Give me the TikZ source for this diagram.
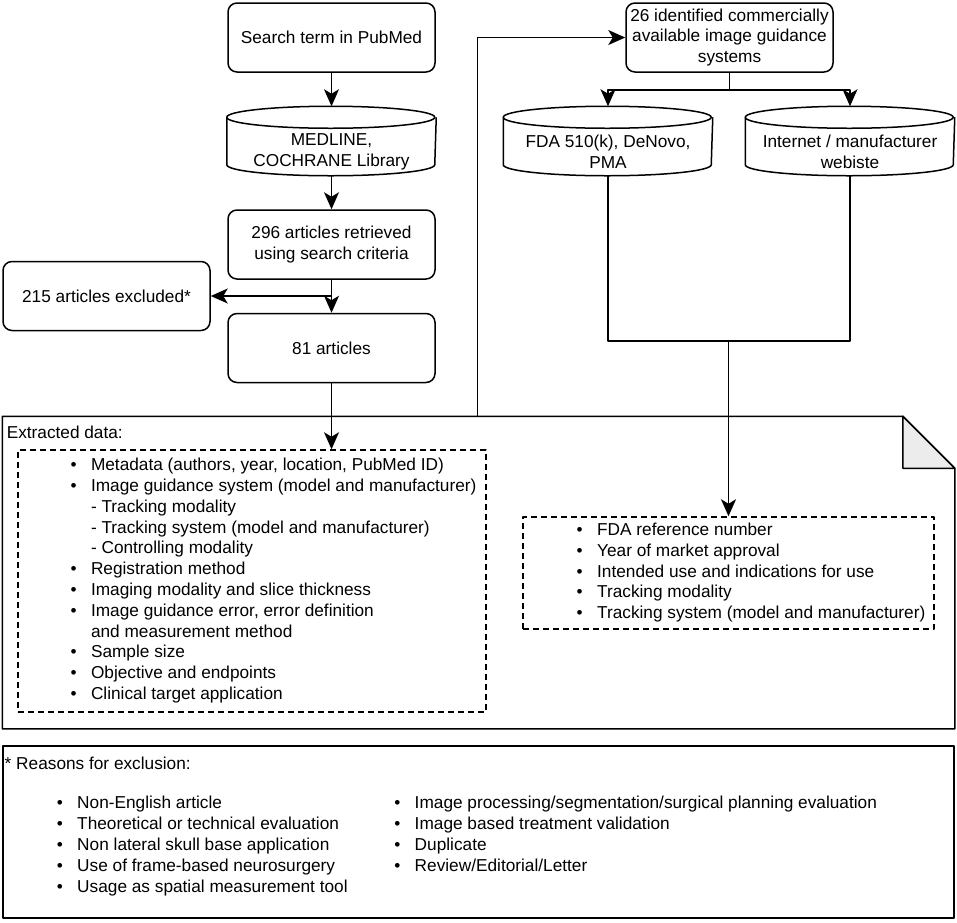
\documentclass[tikz,border=0pt]{standalone}
\usepackage{fontspec}
\setmainfont{Liberation Sans}
\usetikzlibrary{arrows.meta}
\newcommand{\bul}{\makebox[20.5pt][l]{\textbullet}}
% cylinder outline round a (plain) node
\newcommand{\dbshape}[1]{%
  \draw ([yshift=-11pt]#1.north west) arc[start angle=180,end angle=-180,x radius=104pt,y radius=11pt];
  \draw ([yshift=-11pt]#1.north west) -- ([yshift=11pt]#1.south west)
    arc[start angle=180,end angle=360,x radius=104pt,y radius=11pt] -- ([yshift=-11pt]#1.north east);}
\begin{document}
\begin{tikzpicture}[x=1pt,y=-1pt,line width=1.5pt,line join=round,font=\fontsize{17.25}{20.8}\selectfont,
  arr/.style={-{Stealth[length=17pt,width=15pt,inset=4.5pt]}},
  proc/.style={draw,rounded corners=9pt,minimum width=207pt,minimum height=69pt,align=center,inner sep=0pt},
  dbase/.style={minimum width=208pt,minimum height=68pt,inner sep=0pt},
  dashlist/.style={draw,dash pattern=on 6pt off 4pt,inner sep=0pt},
  txt/.style={inner sep=0pt}]
\useasboundingbox (0,0) rectangle (957,922);
% boxes
\node[proc] (search) at (331.5,37.5) {Search term in PubMed};
\node[dbase,label={[align=center,yshift=-11pt]center:{MEDLINE,\\COCHRANE Library}}] (medline) at (331.5,141) {};
\dbshape{medline}
\node[proc] (ret) at (331.5,244.5) {296 articles retrieved\\using search criteria};
\node[proc] (excl) at (106.5,296) {215 articles excluded*};
\node[proc] (art) at (331.5,348) {81 articles};
\node[proc] (sys) at (729.5,37.5) {26 identified commercially\\available image guidance\\systems};
\node[dbase,label={[align=center,yshift=-11pt]center:{FDA 510(k), DeNovo,\\PMA}}] (fda) at (608,141) {};
\dbshape{fda}
\node[dbase,label={[align=center,yshift=-11pt]center:{Internet / manufacturer\\webiste}}] (web) at (850,141) {};
\dbshape{web}
% extracted data note
\node[minimum width=951pt,minimum height=311pt,inner sep=0pt] (extract) at (478.5,572.5) {};
\draw (extract.north west) -- ([xshift=-52pt]extract.north east) -- ([yshift=-52pt]extract.north east)
  -- (extract.south east) -- (extract.south west) -- cycle;
\filldraw[fill=gray!15] ([xshift=-52pt]extract.north east) -- ([xshift=-52pt,yshift=-52pt]extract.north east)
  -- ([yshift=-52pt]extract.north east) -- cycle;
\node[txt,anchor=west] (exlbl) at (6,432) {Extracted data:};
\node[dashlist,minimum width=468pt,minimum height=262pt] (exlist) at (252,581) {%
  \begin{tabular}{@{\hspace{43pt}}l@{}l@{}}
  \bul & Metadata (authors, year, location, PubMed ID)\\
  \bul & Image guidance system (model and manufacturer)\\
       & - Tracking modality\\
       & - Tracking system (model and manufacturer)\\
       & - Controlling modality\\
  \bul & Registration method\\
  \bul & Imaging modality and slice thickness\\
  \bul & Image guidance error, error definition\\
       & and measurement method\\
  \bul & Sample size\\
  \bul & Objective and endpoints\\
  \bul & Clinical target application
  \end{tabular}};
\node[dashlist,minimum width=411pt,minimum height=112pt] (fdalist) at (728.5,573) {%
  \begin{tabular}{@{\hspace{45pt}}l@{}l@{}}
  \bul & FDA reference number\\
  \bul & Year of market approval\\
  \bul & Intended use and indications for use\\
  \bul & Tracking modality\\
  \bul & Tracking system (model and manufacturer)
  \end{tabular}};
% reasons for exclusion
\node[draw,minimum width=951pt,minimum height=172pt,inner sep=0pt] (reasons) at (478.5,832) {};
\node[txt,anchor=west] (rtitle) at (4,763) {* Reasons for exclusion:};
\node[txt,anchor=north west] (rlist) at (56,793.5) {%
  \begin{tabular}{@{}l@{}p{317pt}@{}l@{}l@{}}
  \bul & Non-English article & \bul & Image processing/segmentation/surgical planning evaluation\\
  \bul & Theoretical or technical evaluation & \bul & Image based treatment validation\\
  \bul & Non lateral skull base application & \bul & Duplicate\\
  \bul & Use of frame-based neurosurgery & \bul & Review/Editorial/Letter\\
  \bul & Usage as spatial measurement tool & &
  \end{tabular}};
% connectors
\draw[arr] (search) -- (medline);
\draw[arr] (medline) -- (ret);
\draw[arr] (ret) -- (art);
\draw[arr] (ret.south |- excl.east) -- (excl);
\draw[arr] (art) -- (art.south |- exlist.north);
\draw[arr] (sys.south) -- ++(0,17) -| (fda);
\draw[arr] (sys.south) -- ++(0,17) -| (web);
\coordinate (join) at (fdalist.north |- 0,341);
\draw (fda) |- (join) -| (web);
\draw[arr] (join) -- (fdalist);
\draw[arr] ([xshift=475pt]extract.north west) |- (sys);
\end{tikzpicture}
\end{document}
